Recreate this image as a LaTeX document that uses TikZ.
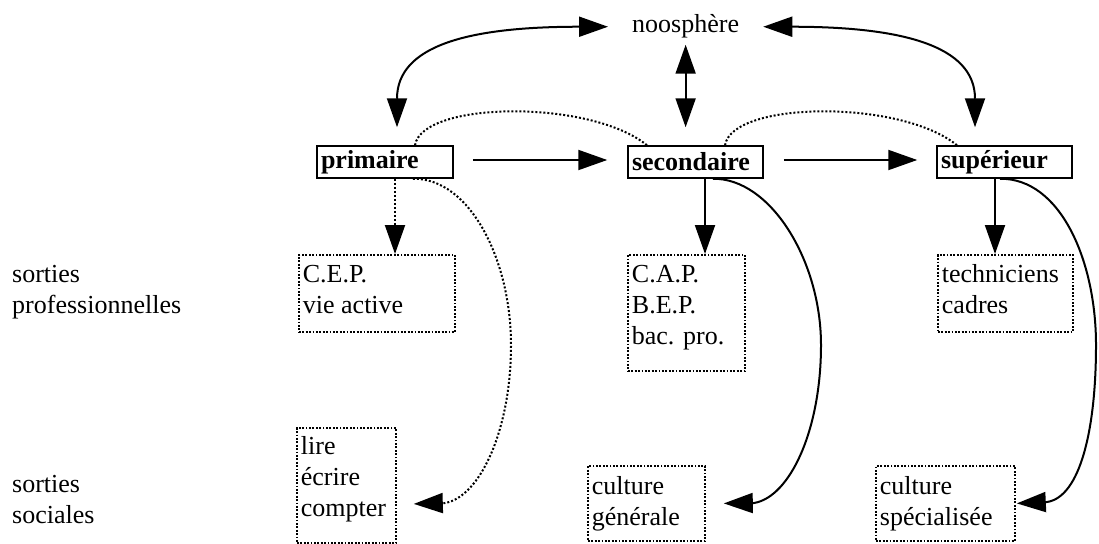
\documentclass[tikz,border=0pt]{standalone}
\usepackage{fontspec}
\setmainfont{Liberation Serif}
\usetikzlibrary{arrows.meta}
\newcommand{\lowtext}[4]{\parbox[t][#2][t]{#1}{\raggedright\vspace*{#3}\strut #4}}
\begin{document}
\begin{tikzpicture}[x=1pt,y=-1pt,
  >={Triangle[length=29pt,width=20pt]},
  every node/.style={font=\fontsize{26}{31}\selectfont},
  topbox/.style={draw, line width=1.5pt, inner xsep=4pt, inner ysep=0pt, minimum height=32pt, align=left, font=\fontsize{26}{31}\selectfont\bfseries},
  lowbox/.style={draw, line width=1.8pt, dash pattern=on 1.8pt off 1.6pt, inner xsep=4pt, inner ysep=0pt, anchor=north west},
  solidline/.style={line width=2pt},
  dotline/.style={line width=2pt, dash pattern=on 2pt off 2pt},
  label/.style={anchor=base west, inner sep=0pt}
]
\fill[white] (0,0) rectangle (1099,543);
\useasboundingbox (0,0) rectangle (1099,543);

% top level
\node[anchor=base west, inner xsep=24pt, inner ysep=3pt] (noos) at (608,33) {noosphère};
\node[topbox, text width=128pt] (prim) at (385,162) {primaire};
\node[topbox, text width=127pt] (sec) at (695.5,162) {secondaire};
\node[topbox, text width=127pt] (sup) at (1004.5,162) {supérieur};

% lower boxes
\node[lowbox] (cep) at (298,254) {\lowtext{148pt}{77pt}{6.3pt}{C.E.P.\\vie active}};
\node[lowbox] (cap) at (627,254) {\lowtext{109pt}{116pt}{6.3pt}{C.A.P.\\B.E.P.\\bac. pro.}};
\node[lowbox] (tech) at (937,254) {\lowtext{127pt}{77pt}{6.3pt}{techniciens\\cadres}};
\node[lowbox] (lire) at (296,427) {\lowtext{91pt}{115pt}{5.3pt}{lire\\écrire\\compter}};
\node[lowbox] (cg) at (587,465) {\lowtext{109pt}{75pt}{7.3pt}{culture\\générale}};
\node[lowbox] (cs) at (875,465) {\lowtext{131pt}{75pt}{7.3pt}{culture\\spécialisée}};

% side labels
\node[label] (lab1) at (12,282) {\parbox[t]{220pt}{sorties\\professionnelles}};
\node[label] (lab2) at (12,492) {\parbox[t]{220pt}{sorties\\sociales}};

% noosphere links
\draw[solidline, <->] ([xshift=12pt, yshift=18pt]prim.north) .. controls (397,45) and (470,26.7) .. (noos.west);
\draw[solidline, <->] (noos.east) .. controls (900,26.7) and (975,45) .. ([xshift=-29.5pt, yshift=18pt]sup.north);
\coordinate (m1) at (sec.north -| noos.center);
\draw[solidline, <->] ([yshift=-18pt]noos.center) -- ([yshift=18pt]m1);

% horizontal arrows
\draw[solidline, ->] ([xshift=19pt, yshift=2pt]prim.east) -- ([xshift=-20pt, yshift=2pt]sec.west);
\draw[solidline, ->] ([xshift=20pt, yshift=2pt]sec.east) -- ([xshift=-19pt, yshift=2pt]sup.west);

% dotted arcs
\draw[dotline] ([xshift=30pt]prim.north) .. controls (422,101) and (590,99) .. ([xshift=-48.5pt]sec.north);
\draw[dotline] ([xshift=29.5pt]sec.north) .. controls (732,101) and (900,99) .. ([xshift=-47.5pt]sup.north);

% down arrows
\path ([xshift=10pt]prim.south) coordinate (pd);
\draw[dotline, ->] (pd) -- (pd |- cep.north);
\path ([xshift=9.5pt]sec.south) coordinate (sd);
\draw[solidline, ->] (sd) -- (sd |- cap.north);
\path ([xshift=-9.5pt]sup.south) coordinate (ud);
\draw[solidline, ->] (ud) -- (ud |- tech.north);

% curves to social outputs
\draw[dotline, ->] ([xshift=28pt]prim.south) .. controls (470,178) and (511,260) .. (511,345) .. controls (511,430) and (480,497) .. (445,503) -- ([xshift=17pt,yshift=-18.5pt]lire.east);
\draw[solidline, ->] ([xshift=17.5pt]sec.south) .. controls (770,178) and (821,260) .. (821,345) .. controls (821,430) and (790,497) .. (754,503) -- ([xshift=18pt]cg.east);
\draw[solidline, ->] ([xshift=-4.5pt]sup.south) .. controls (1060,178) and (1096,260) .. (1096,345) .. controls (1096,430) and (1080,497) .. (1047,502) -- ([xshift=1pt]cs.east);
\end{tikzpicture}
\end{document}
